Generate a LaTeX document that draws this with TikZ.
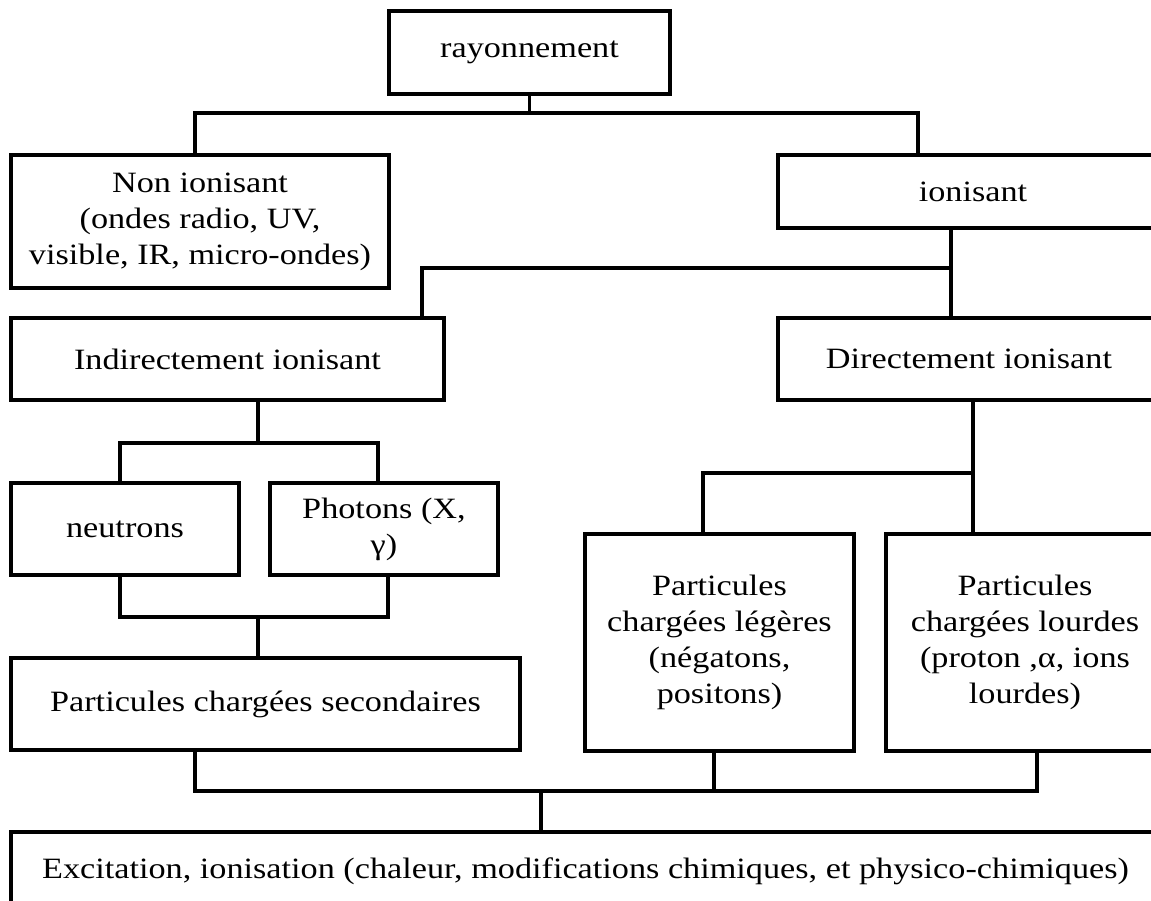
\documentclass[tikz,border=0pt]{standalone}
\usepackage{fontspec}
\setmainfont[FakeStretch=1.16]{Liberation Serif}
\usetikzlibrary{calc}
\tikzset{
  box/.style={draw, line width=3.2pt, align=center, inner sep=0pt,
    font=\fontsize{29.5}{36}\selectfont},
  conn/.style={line width=3.2pt}
}
\begin{document}
\begin{tikzpicture}[x=1pt,y=-1pt]
\useasboundingbox (0,0) rectangle (1151,900);
\clip (0,0) rectangle (1151,900);
\node[box, minimum width=281, minimum height=83] (ray) at (529.5,52.5) {rayonnement};
\node[box, minimum width=378, minimum height=133] (non) at (200,221.5) {Non ionisant\\(ondes radio, UV,\\visible, IR, micro-ondes)};
\node[box, minimum width=390, minimum height=73] (ion) at (973,191.5) {ionisant};
\node[box, minimum width=433, minimum height=82] (ind) at (227.5,359) {Indirectement ionisant};
\node[box, minimum width=382, minimum height=82] (dir) at (969,359) {Directement ionisant};
\node[box, minimum width=228, minimum height=92] (neu) at (125,529) {neutrons};
\node[box, minimum width=228, minimum height=92] (pho) at (384,529) {Photons (X,\\γ)};
\node[box, minimum width=509, minimum height=92] (sec) at (265.5,704) {Particules chargées secondaires};
\node[box, minimum width=269, minimum height=217] (leg) at (719.5,642.5) {Particules\\chargées légères\\(négatons,\\positons)};
\node[box, minimum width=278, minimum height=217] (lou) at (1025,642.5) {Particules\\chargées lourdes\\(proton ,α, ions\\lourdes)};
\node[box, minimum width=1149, minimum height=78] (exc) at (585.5,871) {Excitation, ionisation (chaleur, modifications chimiques, et physico-chimiques)};
% rayonnement
\coordinate (j1) at (529.5,113);
\draw[conn] (ray.south) -- (j1);
\draw[conn] ($(non.north)+(-5,0)$) |- (j1) -| ($(ion.north)+(-55,0)$);
% ionisant
\coordinate (j2) at (951,268);
\draw[conn] ($(ion.south)+(-22,0)$) -- ($(dir.north)+(-18,0)$);
\draw[conn] (j2) -| ($(ind.north)+(194.5,0)$);
% indirectement
\coordinate (j3) at (258,443);
\draw[conn] ($(ind.south)+(30.5,0)$) -- (j3);
\draw[conn] ($(neu.north)+(-5,0)$) |- (j3) -| ($(pho.north)+(-6,0)$);
\coordinate (j4) at (258,617);
\draw[conn] ($(neu.south)+(-5,0)$) |- (j4) -| ($(pho.south)+(4,0)$);
\draw[conn] (j4) -- ($(sec.north)+(-7.5,0)$);
% directement
\coordinate (j5) at (973,473);
\draw[conn] ($(dir.south)+(4,0)$) -- (j5) -- ($(lou.north)+(-52,0)$);
\draw[conn] (j5) -| ($(leg.north)+(-16.5,0)$);
% bottom
\coordinate (j6) at (541,791);
\coordinate (lb) at ($(leg.south)+(-5.5,0)$);
\draw[conn] ($(sec.south)+(-70.5,0)$) |- (j6) -| ($(lou.south)+(12,0)$);
\draw[conn] (lb) -- (lb |- j6);
\draw[conn] (j6) -- ($(exc.north)+(-44.5,0)$);
\end{tikzpicture}
\end{document}
